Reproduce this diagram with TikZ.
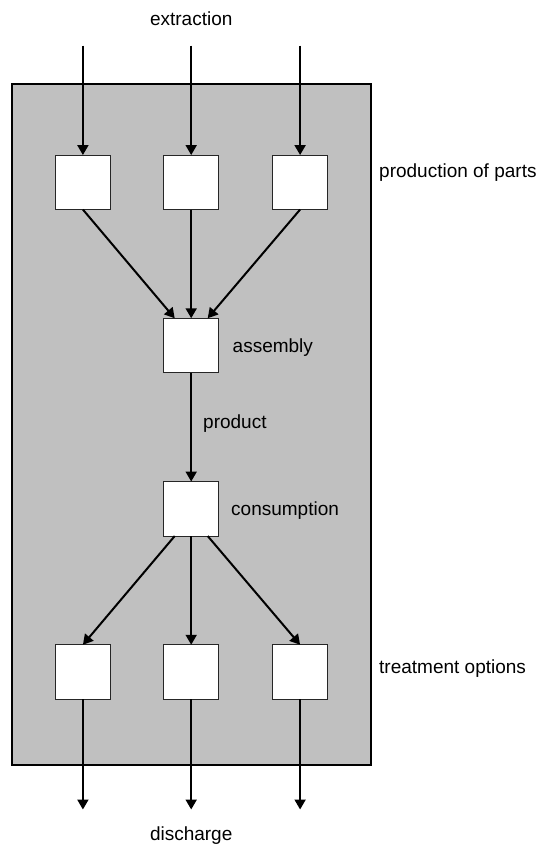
\documentclass[tikz,border=0pt]{standalone}
\usepackage{fontspec}
\setmainfont{Liberation Sans}
\usetikzlibrary{arrows.meta,calc}
\definecolor{panel}{RGB}{192,192,192}
\tikzset{
  unit/.style={draw=black!85, line width=1pt, fill=white, minimum width=54.5pt,
               minimum height=54.5pt, inner sep=0pt, outer sep=0pt},
  flow/.style={line width=2pt, -{Triangle[length=10pt,width=11pt]}},
  lbl/.style={anchor=base west, inner sep=0pt, font=\fontsize{19pt}{22pt}\selectfont},
}
\begin{document}
\begin{tikzpicture}[x=1pt,y=-1pt]
  \useasboundingbox (0,0) rectangle (539,845);
  % system boundary
  \draw[fill=panel, line width=2pt] (12,84.5) rectangle (371,764.5);

  % production of parts
  \node[unit] (p1) at (82.9,182.3) {};
  \node[unit] (p2) at (191.2,182.3) {};
  \node[unit] (p3) at (300.1,182.3) {};
  % assembly and consumption
  \node[unit] (asm) at (191.2,345.5) {};
  \node[unit] (con) at (191.2,508.8) {};
  % treatment options
  \node[unit] (t1) at (82.9,672) {};
  \node[unit] (t2) at (191.2,672) {};
  \node[unit] (t3) at (300.1,672) {};

  % inflows from extraction and outflows to discharge
  \coordinate (e1) at (82.9,45.7);
  \coordinate (e2) at (191.2,45.7);
  \coordinate (e3) at (300.1,45.7);
  \coordinate (d1) at (82.9,809.5);
  \coordinate (d2) at (191.2,809.5);
  \coordinate (d3) at (300.1,809.5);

  \draw[flow] (e1) -- (p1.north);
  \draw[flow] (e2) -- (p2.north);
  \draw[flow] (e3) -- (p3.north);

  \draw[flow] (p1.south) -- ($(asm.north)+(-16.5,0)$);
  \draw[flow] (p2.south) -- (asm.north);
  \draw[flow] (p3.south) -- ($(asm.north)+(16.5,0)$);

  \draw[flow] (asm.south) -- (con.north);

  \draw[flow] ($(con.south)+(-16.5,0)$) -- (t1.north);
  \draw[flow] (con.south) -- (t2.north);
  \draw[flow] ($(con.south)+(16.5,0)$) -- (t3.north);

  \draw[flow] (t1.south) -- (d1);
  \draw[flow] (t2.south) -- (d2);
  \draw[flow] (t3.south) -- (d3);

  % labels
  \node[lbl, anchor=base] (lext) at (191.2,26) {extraction};
  \node[lbl] (lpar) at (379,177.5) {production of parts};
  \node[lbl] (lasm) at (232.5,352.5) {assembly};
  \node[lbl] (lprd) at (203,428) {product};
  \node[lbl] (lcon) at (231,515.5) {consumption};
  \node[lbl] (ltrt) at (379,673) {treatment options};
  \node[lbl, anchor=base] (ldis) at (191.2,840.5) {discharge};
\end{tikzpicture}
\end{document}
